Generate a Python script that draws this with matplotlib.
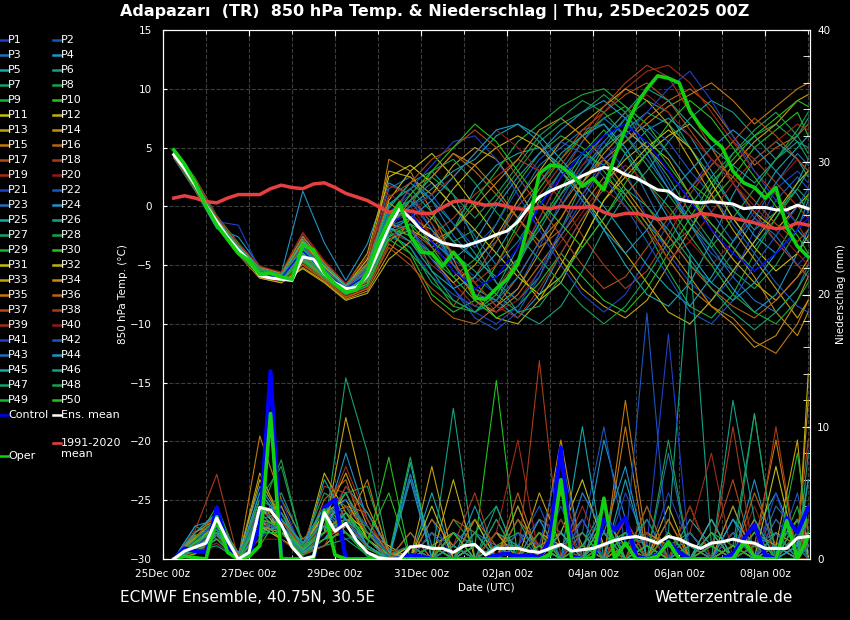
import matplotlib
matplotlib.use("Agg")
import matplotlib.pyplot as plt
from matplotlib.lines import Line2D
from matplotlib.ticker import MultipleLocator

# time axes (hours after 25Dec2025 00Z)
hours = list(range(6, 361, 6))
member_hours = [6] + list(range(18, 355, 12)) + [360]

tick_hours = [0, 48, 96, 144, 192, 240, 288, 336]
tick_labels = ["25Dec 00z", "27Dec 00z", "29Dec 00z", "31Dec 00z",
               "02Jan 00z", "04Jan 00z", "06Jan 00z", "08Jan 00z"]

# 850 hPa temperature, 6-hourly
ens_mean = [4.4, 3.2, 1.8, 0.1, -1.3, -2.6, -3.7, -4.6, -5.9, -6.1,
            -6.2, -6.3, -4.3, -4.5, -5.7, -6.5, -7.0, -6.9, -5.9, -3.9,
            -1.8, -0.2, -1.0, -2.0, -2.6, -3.1, -3.3, -3.4, -3.1, -2.8,
            -2.4, -2.1, -1.3, -0.1, 0.8, 1.3, 1.7, 2.1, 2.6, 3.0,
            3.3, 3.2, 2.7, 2.4, 1.9, 1.4, 1.3, 0.6, 0.4, 0.3,
            0.4, 0.3, 0.2, -0.2, -0.1, -0.1, -0.3, -0.3, 0.1, -0.2]
oper = [4.8, 3.6, 2.0, 0.0, -1.6, -2.8, -4.0, -4.6, -5.8, -5.7,
        -6.0, -6.2, -3.3, -3.7, -5.6, -6.6, -7.3, -7.1, -5.6, -3.2,
        -1.2, 0.3, -2.5, -3.9, -4.0, -5.1, -3.9, -5.0, -7.8, -7.9,
        -7.0, -6.2, -4.9, -1.5, 2.8, 3.5, 3.4, 2.7, 1.7, 2.4,
        1.4, 4.2, 6.6, 8.6, 10.0, 11.1, 10.9, 10.5, 8.1, 6.8,
        5.8, 5.0, 3.0, 2.0, 1.6, 0.7, 1.6, -1.8, -3.4, -4.3]
clim = [0.7, 0.9, 0.7, 0.4, 0.3, 0.7, 1.0, 1.0, 1.0, 1.5,
        1.8, 1.6, 1.5, 1.9, 2.0, 1.6, 1.1, 0.8, 0.5, 0.0,
        -0.5, -0.3, -0.4, -0.6, -0.6, -0.1, 0.4, 0.5, 0.3, 0.1,
        0.2, 0.0, -0.2, -0.3, -0.1, -0.2, 0.0, -0.1, -0.1, 0.0,
        -0.5, -0.8, -0.6, -0.6, -0.8, -1.1, -1.0, -0.9, -0.9, -0.6,
        -0.7, -0.9, -1.0, -1.2, -1.4, -1.7, -1.9, -1.8, -1.4, -1.6]
control_temp = [4.4, 1.8, -1.3, -3.7, -5.7, -6.1, -3.8, -5.6, -7.0, -5.8,
                -1.5, -0.5, -3.0, -5.5, -7.0, -6.0, -3.5, 0.0, 2.5, 4.5,
                6.0, 7.0, 5.5, 3.0, 0.5, -2.0, -4.0, -5.5, -4.0, -2.0, -1.0]

# precipitation (mm / 6h)
mean_precip = [0.0, 0.6, 0.9, 1.2, 3.1, 1.4, 0.0, 0.5, 3.9, 3.7,
               2.6, 0.9, 0.0, 0.2, 3.5, 2.1, 2.7, 1.4, 0.5, 0.1,
               0.0, 0.0, 0.9, 1.0, 0.8, 0.8, 0.5, 1.0, 1.1, 0.3,
               0.8, 0.8, 0.8, 0.6, 0.5, 0.8, 1.1, 0.6, 0.7, 0.8,
               1.1, 1.4, 1.6, 1.7, 1.5, 1.2, 1.7, 1.5, 1.1, 0.8,
               1.2, 1.3, 1.5, 1.3, 1.2, 0.8, 0.8, 0.8, 1.6, 1.7]
control_precip = [0, 0.8, 0.6, 0.5, 3.9, 1.0, 0, 0.4, 2.4, 14.2,
                  0, 0, 0, 0, 3.9, 4.5, 0, 0, 0, 0,
                  0, 0, 0.3, 0.2, 0, 0, 0, 0, 0, 0,
                  0.3, 0.4, 0.2, 0.3, 0.1, 1.5, 8.4, 0.2, 0, 0,
                  3.0, 2.2, 3.1, 0.2, 0, 0.3, 1.3, 0.5, 0, 0,
                  0, 0, 0.4, 1.5, 2.6, 0.3, 0, 3.1, 2.0, 3.9]
oper_precip = [0, 0.2, 0.1, 0, 3.2, 0.5, 0, 0.2, 1.0, 11.0,
               0, 0, 0, 0.1, 3.7, 0.3, 0, 0, 0, 0,
               0, 0, 0, 0, 0, 0, 0, 0, 0, 0,
               0, 0, 0, 0, 0, 0.3, 6.0, 0, 0, 0.1,
               4.6, 0, 1.2, 0, 0, 0.2, 1.3, 0, 0, 0,
               0, 0, 0, 1.3, 0.2, 0, 0, 2.9, 0, 1.7]

# ensemble members P1..P50, 12-hourly
member_temp = [
    [4.5, 1.9, -1.3, -3.6, -5.6, -6.0, -3.6, -5.5, -7.1, -5.2, -0.5, 1.0, -2.0, -4.5, -6.0, -7.5, -5.0, -1.0, 2.5, 4.0, 5.5, 3.0, -1.0, -4.0, -6.5, -8.0, -6.0, -2.0, 1.5, 3.0, 2.0],
    [4.3, 1.6, -1.5, -3.9, -5.8, -6.2, -4.2, -5.9, -7.2, -6.3, -2.5, -3.5, -6.0, -7.5, -8.5, -9.0, -7.0, -3.5, 0.5, 3.5, 5.0, 6.5, 5.0, 2.0, -1.5, -4.0, -5.5, -3.0, 0.5, 2.5, 1.5],
    [4.6, 2.1, -1.1, -3.3, -5.4, -5.8, -2.5, -4.9, -6.8, -4.8, 1.5, 2.5, 0.5, -2.5, -4.5, -3.0, 0.5, 3.5, 5.0, 6.5, 7.0, 4.5, 1.0, -2.5, -5.0, -6.5, -4.0, -1.0, -2.5, -5.0, -6.0],
    [4.1, 1.3, -1.9, -2.6, -5.1, -5.7, 1.3, -3.1, -6.3, -3.2, 2.0, 1.0, -1.5, -5.0, -7.0, -8.0, -9.5, -7.5, -4.0, -1.0, 1.5, 4.5, 6.5, 7.5, 6.0, 3.0, 0.0, -2.5, -4.0, -2.0, 0.5],
    [4.4, 1.7, -1.4, -3.8, -5.7, -6.1, -4.0, -5.7, -7.0, -6.0, -1.5, -0.5, -3.5, -2.0, 1.5, 3.5, 4.5, 5.0, 3.5, 1.0, -2.0, -5.0, -7.5, -8.5, -6.5, -3.0, 1.0, 4.0, 5.5, 4.0, 2.5],
    [4.7, 2.2, -1.0, -3.4, -5.3, -5.9, -3.0, -5.2, -6.9, -5.0, 0.0, 2.0, 3.0, 1.0, -3.0, -6.5, -8.0, -6.0, -2.0, 2.0, 5.0, 7.5, 9.0, 8.0, 5.0, 2.0, -1.0, -3.5, -1.0, 2.0, 4.0],
    [4.2, 1.5, -1.6, -4.0, -6.0, -6.4, -4.8, -6.2, -7.6, -6.8, -3.0, -1.5, -5.5, -8.0, -9.0, -7.0, -3.5, 0.5, 3.0, 4.5, 3.5, 1.0, -1.5, -3.5, -2.0, 1.5, 4.5, 6.0, 7.0, 5.5, 4.0],
    [4.6, 2.0, -1.2, -3.5, -5.5, -6.0, -3.4, -5.3, -6.9, -5.6, -1.0, 0.5, -1.0, -3.0, -2.0, 0.5, 3.0, 5.5, 7.0, 8.0, 9.5, 8.0, 5.0, 2.5, -0.5, -3.0, -5.5, -7.0, -5.0, -2.0, -1.0],
    [4.9, 2.4, -0.8, -3.1, -5.2, -5.7, -3.8, -5.5, -7.0, -5.7, -1.8, -2.5, -4.5, -6.0, -4.5, -1.5, 2.0, 4.5, 6.0, 5.0, 3.0, 0.5, -2.0, -5.5, -8.5, -9.5, -7.5, -4.0, -1.0, 1.5, 3.0],
    [4.5, 1.8, -1.3, -3.7, -5.6, -6.1, -4.4, -5.8, -7.3, -6.2, -2.0, -4.0, -7.5, -9.0, -8.0, -5.0, -1.5, 1.5, 4.0, 6.0, 7.5, 8.5, 7.0, 4.5, 2.0, 0.5, 2.5, 5.0, 6.5, 8.0, 6.0],
    [4.3, 1.6, -1.5, -3.9, -5.9, -6.3, -3.7, -5.6, -7.1, -5.4, 0.5, 3.0, 4.5, 2.5, 0.0, -2.5, -5.5, -8.0, -6.5, -3.0, 0.5, 2.5, 4.5, 6.0, 7.0, 5.0, 2.0, -0.5, -2.0, 0.0, 1.0],
    [4.6, 2.0, -1.1, -3.4, -5.4, -5.9, -4.6, -6.0, -7.4, -6.6, -2.8, -2.0, -3.0, -5.5, -7.5, -9.5, -10.0, -8.0, -5.0, -1.5, 2.0, 4.0, 5.5, 4.0, 1.0, -2.0, -4.5, -6.5, -8.0, -6.0, -4.5],
    [4.4, 1.9, -1.3, -3.6, -5.7, -6.2, -2.8, -5.0, -6.7, -4.0, 3.0, 2.5, 1.0, 3.5, 5.0, 4.0, 1.5, -1.5, -4.5, -7.0, -8.5, -9.5, -8.0, -5.0, -2.0, 1.0, 3.5, 5.5, 7.0, 9.0, 9.5],
    [4.2, 1.4, -1.7, -4.1, -6.1, -6.5, -5.2, -6.4, -7.9, -7.2, -4.0, -1.0, -2.0, -4.0, -6.5, -8.5, -7.0, -4.0, -1.0, 2.0, 4.5, 6.5, 5.0, 3.0, 0.5, -1.5, -3.5, -6.0, -9.0, -11.0, -9.0],
    [4.5, 1.8, -1.4, -3.8, -5.8, -6.2, -4.0, -5.7, -7.2, -6.1, 4.0, 3.0, -0.5, -4.5, -8.0, -9.0, -7.5, -5.0, -2.5, 0.0, 2.5, 1.0, -1.5, -4.5, -7.0, -8.5, -9.5, -11.5, -12.5, -10.0, -8.0],
    [4.7, 2.1, -1.0, -3.3, -5.3, -5.8, -3.2, -5.1, -6.8, -5.3, -0.8, 1.5, 2.5, 4.5, 3.0, 1.0, -1.0, -3.5, -2.0, 1.0, 3.5, 5.5, 7.5, 9.0, 10.0, 8.5, 6.0, 3.5, 5.0, 6.0, 7.0],
    [4.3, 1.5, -1.6, -4.0, -6.0, -6.4, -5.0, -6.3, -7.8, -7.0, -3.5, -5.0, -7.0, -8.5, -6.0, -3.0, 0.0, 2.0, 4.0, 6.5, 8.0, 9.5, 10.5, 9.0, 6.5, 4.0, 2.5, 0.5, -1.5, -3.0, -2.0],
    [4.6, 2.0, -1.2, -3.5, -5.5, -6.0, -3.3, -5.4, -6.9, -5.5, -1.2, -0.5, -2.5, -1.0, 1.0, 2.5, 4.0, 3.0, 0.5, -2.5, -5.0, -7.0, -5.5, -2.5, 1.0, 3.5, 5.5, 4.0, 2.0, 0.0, -1.0],
    [4.4, 1.7, -1.4, -3.8, -5.7, -6.1, -4.3, -5.9, -7.2, -6.4, -2.2, -3.0, -5.0, -6.5, -8.5, -7.0, -4.5, -1.0, 2.5, 5.5, 8.0, 10.0, 11.5, 12.0, 10.5, 8.0, 5.5, 3.0, 1.0, -1.5, -3.0],
    [4.8, 2.3, -0.9, -3.2, -5.2, -5.7, -2.2, -4.6, -6.6, -4.6, 1.0, 0.0, -2.5, -5.0, -7.0, -9.0, -8.0, -5.5, -3.0, -0.5, 2.0, 3.5, 2.0, -0.5, -3.0, -5.0, -3.0, -0.5, 2.0, 4.0, 3.0],
    [4.5, 1.9, -1.3, -1.6, -5.4, -6.0, -3.0, -5.0, -6.9, -5.3, -1.0, 1.5, 3.5, 5.5, 6.0, 4.0, 1.0, -2.0, -5.0, -7.5, -9.0, -7.5, -4.5, -1.5, 1.5, 4.0, 2.0, -1.0, -3.0, -5.0, -4.0],
    [4.2, 1.4, -1.7, -4.1, -6.0, -6.3, -4.7, -6.1, -7.5, -6.7, -2.5, -2.0, -4.0, -7.0, -9.5, -10.5, -9.0, -6.0, -2.5, 0.5, 3.5, 5.5, 7.0, 5.5, 3.0, 1.0, -1.5, -4.0, -6.5, -8.5, -9.0],
    [4.6, 2.1, -1.1, -3.4, -5.5, -6.0, -3.5, -5.4, -7.0, -5.6, -0.5, 0.5, 2.0, 0.0, -2.5, -5.0, -3.0, 0.0, 3.0, 5.5, 7.5, 6.0, 4.0, 1.5, -1.0, -3.5, -6.0, -8.0, -9.0, -7.0, -5.0],
    [4.4, 1.8, -1.3, -3.7, -5.6, -6.1, -4.1, -5.8, -7.1, -6.0, -1.7, -1.0, -3.0, -4.5, -3.0, 0.0, 2.5, 4.5, 6.5, 8.0, 9.0, 7.5, 4.5, 1.5, -1.5, -4.5, -7.0, -9.0, -7.5, -4.0, -2.0],
    [4.3, 1.6, -1.5, -3.9, -5.8, -6.2, -3.9, -5.7, -7.1, -6.0, -1.3, 0.0, 1.5, 3.0, 4.0, 6.0, 7.0, 6.0, 4.0, 2.0, 0.0, -2.5, -5.0, -7.0, -8.5, -6.0, -3.0, 0.0, 3.0, 5.0, 6.0],
    [4.7, 2.2, -1.0, -3.3, -5.3, -5.8, -3.1, -5.2, -6.8, -5.2, -0.2, 2.0, 0.5, -1.5, -4.0, -6.5, -9.0, -10.0, -8.5, -5.5, -2.0, 1.0, 3.0, 5.5, 7.5, 9.0, 8.0, 6.0, 4.0, 6.0, 7.5],
    [4.5, 1.8, -1.4, -3.8, -5.7, -6.1, -4.5, -5.9, -7.3, -6.3, -2.3, -3.5, -6.5, -8.0, -9.0, -8.0, -5.0, -1.5, 1.0, 3.0, 5.0, 6.5, 8.0, 7.0, 5.0, 2.5, 0.0, -2.0, -0.5, 1.5, 0.5],
    [4.6, 2.0, -1.2, -3.5, -5.4, -5.9, -3.6, -5.5, -7.0, -5.7, -1.4, 0.0, 3.0, 4.0, 2.0, -0.5, -2.5, -4.5, -6.5, -8.5, -10.0, -8.5, -6.0, -3.0, 0.0, 2.5, 4.5, 6.5, 8.0, 6.0, 4.5],
    [4.4, 1.7, -1.4, -3.7, -5.6, -6.1, -4.2, -5.8, -7.2, -6.1, -1.9, -2.5, -4.0, -2.0, 0.5, 3.0, 5.5, 7.0, 8.5, 9.5, 10.0, 8.5, 6.0, 3.5, 1.0, -1.5, -3.5, -5.5, -4.0, -1.0, 1.0],
    [4.3, 1.5, -1.6, -4.0, -5.9, -6.3, -4.6, -6.0, -7.5, -6.6, -2.6, -1.5, -3.5, -6.0, -8.0, -9.5, -8.5, -6.5, -4.0, -6.0, -8.0, -9.0, -7.0, -4.0, -1.0, 2.0, 4.0, 6.0, 7.5, 9.0, 8.5],
    [4.6, 2.1, -1.1, -3.4, -5.4, -5.9, -3.0, -5.1, -6.8, -4.5, 2.5, 3.5, 2.0, 0.0, -2.0, -4.0, -6.0, -7.5, -6.0, -3.0, 0.5, 3.0, 5.0, 6.5, 5.0, 2.0, -1.0, -3.5, -5.5, -4.0, -2.5],
    [4.2, 1.4, -1.7, -4.1, -6.1, -6.5, -5.3, -6.5, -8.0, -7.4, -4.5, -3.0, -1.0, 1.5, 3.5, 5.0, 6.0, 5.0, 3.0, 1.0, -1.5, -4.0, -6.5, -9.0, -10.0, -8.0, -5.5, -3.0, -0.5, 2.0, 3.0],
    [4.5, 1.8, -1.3, -3.7, -5.6, -6.0, -3.7, -5.6, -7.1, -5.8, -1.5, -2.0, -4.5, -6.5, -5.0, -2.5, 0.5, 3.0, 5.5, 7.0, 8.5, 10.0, 9.0, 7.0, 4.0, 1.0, -2.0, -4.5, -7.0, -9.5, -8.0],
    [4.7, 2.2, -1.0, -3.3, -5.2, -5.7, -2.6, -4.8, -6.7, -4.9, 0.3, -1.0, -3.0, -2.0, 0.0, 2.0, 4.0, 6.5, 7.5, 6.0, 4.0, 1.5, -1.0, -3.5, -6.0, -8.5, -10.0, -12.0, -11.0, -8.0, -6.0],
    [4.4, 1.7, -1.5, -3.9, -5.8, -6.2, -4.4, -6.0, -7.4, -6.4, -2.0, 0.5, 2.5, 4.5, 3.5, 1.5, -1.0, -3.0, -1.0, 2.0, 4.0, 5.5, 7.0, 8.5, 9.5, 10.5, 9.0, 7.0, 8.5, 10.0, 10.5],
    [4.3, 1.5, -1.6, -4.0, -6.0, -6.4, -4.9, -6.2, -7.7, -7.0, -3.2, -4.5, -8.0, -9.5, -10.0, -8.5, -6.0, -3.0, 0.0, 2.5, 4.0, 2.5, 0.0, -2.5, -5.0, -7.0, -8.5, -9.5, -8.0, -6.0, -5.0],
    [4.6, 2.0, -1.2, -3.5, -5.5, -6.0, -3.2, -5.3, -6.9, -5.1, 0.8, 2.0, 4.0, 5.0, 6.5, 5.0, 2.5, 0.0, -2.5, -5.0, -7.0, -6.0, -3.5, -1.0, 1.5, 3.5, 5.5, 7.5, 6.0, 4.0, 3.0],
    [4.5, 1.9, -1.3, -3.6, -5.6, -6.1, -4.1, -5.8, -7.1, -6.1, -1.6, -2.0, -3.5, -5.0, -6.5, -5.0, -2.0, 1.0, 3.5, 6.0, 8.5, 10.5, 12.0, 11.0, 8.0, 5.0, 2.0, -0.5, -3.0, -5.0, -6.0],
    [4.8, 2.3, -0.9, -3.2, -5.1, -5.6, -2.3, -4.7, -6.6, -4.3, 1.8, 1.0, -1.5, -4.0, -6.5, -8.5, -9.5, -7.0, -4.0, -1.0, 1.5, 0.0, -2.0, -4.5, -3.0, -0.5, 2.0, 4.0, 5.5, 7.0, 6.5],
    [4.2, 1.4, -1.7, -4.1, -6.0, -6.4, -4.8, -6.1, -7.6, -6.9, -3.0, -0.5, 1.0, 2.5, 4.5, 6.5, 5.0, 3.0, 1.0, 3.5, 6.0, 8.0, 9.5, 8.0, 6.0, 4.0, 2.0, 0.0, -2.0, -4.0, -5.0],
    [4.5, 1.8, -1.4, -3.8, -5.7, -6.1, -3.9, -5.7, -7.1, -5.9, -1.2, -2.0, -4.5, -7.0, -9.0, -10.0, -8.5, -5.5, -2.0, 1.0, 4.0, 6.0, 8.0, 10.0, 11.5, 9.0, 6.0, 3.0, 0.5, -1.5, -0.5],
    [4.4, 1.7, -1.4, -3.7, -5.6, -6.1, -3.8, -5.6, -7.0, -5.9, -1.7, 0.0, 1.0, -1.5, -3.5, -1.5, 1.5, 4.0, 5.5, 4.5, 2.5, 0.0, -3.0, -6.0, -9.0, -10.0, -8.0, -5.0, -2.5, 0.0, 1.5],
    [4.6, 2.0, -1.2, -3.5, -5.5, -6.0, -3.4, -5.3, -6.9, -5.4, -0.6, 0.5, -2.0, -5.0, -7.5, -8.0, -6.0, -3.0, 0.0, 3.0, 5.5, 7.5, 6.5, 4.5, 2.0, -0.5, -3.0, -1.0, 2.0, 4.5, 3.5],
    [4.3, 1.6, -1.5, -3.9, -5.8, -6.2, -4.3, -5.9, -7.2, -6.2, -2.1, -1.0, 0.5, 2.5, 4.5, 6.5, 7.0, 5.5, 3.0, 0.5, -2.0, -4.0, -2.0, 1.0, 3.0, 5.0, 6.5, 5.0, 3.0, 1.0, -0.5],
    [4.5, 1.9, -1.3, -3.6, -5.6, -6.1, -4.0, -5.8, -7.2, -6.0, -1.8, -3.0, -5.5, -7.0, -6.0, -4.0, -1.0, 2.0, 4.5, 6.0, 7.0, 5.0, 2.0, -1.0, -4.0, -6.5, -8.0, -6.5, -4.0, -2.0, -3.0],
    [4.7, 2.1, -1.1, -3.4, -5.3, -5.8, -2.9, -5.0, -6.7, -5.0, 0.2, 1.5, -0.5, -3.0, -4.5, -6.0, -4.5, -2.0, 1.0, 4.0, 6.0, 8.0, 10.0, 9.0, 7.0, 5.0, 3.5, 2.0, 4.0, 5.5, 5.0],
    [4.4, 1.7, -1.4, -3.8, -5.7, -6.2, -4.3, -5.9, -7.3, -6.3, -2.2, -1.5, -2.5, -4.0, -5.5, -7.5, -9.0, -8.5, -6.0, -3.5, -1.0, 1.5, 0.0, -2.0, -4.5, -7.0, -9.0, -10.5, -9.0, -7.0, -5.5],
    [4.6, 2.0, -1.2, -3.5, -5.4, -5.9, -3.6, -5.5, -7.0, -5.7, -1.3, 0.5, 2.5, 1.0, -1.0, 1.0, 3.5, 6.0, 7.5, 9.0, 8.0, 6.0, 3.5, 1.0, -1.5, -3.5, -1.0, 1.5, 4.0, 6.5, 8.0],
    [4.3, 1.5, -1.6, -4.0, -5.9, -6.3, -4.7, -6.1, -7.5, -6.8, -2.8, -4.0, -6.0, -8.5, -9.0, -7.5, -4.5, -1.5, 1.5, 4.5, 6.5, 4.5, 2.0, 0.0, -2.5, -5.0, -7.5, -9.0, -10.0, -8.0, -6.5],
    [4.5, 1.8, -1.3, -3.7, -5.6, -6.1, -3.9, -5.7, -7.1, -6.0, -1.5, 1.0, 3.0, 5.0, 7.0, 5.5, 3.0, 0.5, -1.5, -3.5, -1.0, 2.0, 4.5, 7.0, 9.0, 7.5, 5.0, 2.5, 0.0, -2.5, -4.0],
]

member_precip = [
    [0, 1.0, 2.0, 0, 3.0, 2.5, 0.5, 2.0, 3.0, 1.0, 0, 0, 1, 0, 2, 0, 1, 3, 0, 2, 0, 1, 0, 5, 1, 0, 2, 1, 0, 3, 1],
    [0, 0.5, 1.5, 0, 2.0, 3.0, 0.3, 1.5, 2.0, 0.5, 0, 1, 0, 2, 0, 1, 0, 0, 4, 0, 1, 0, 2, 0, 0, 3, 0, 1, 2, 0, 2],
    [0, 1.5, 2.5, 0, 4.0, 2.0, 1.0, 3.0, 1.5, 2.0, 0.5, 0, 2, 1, 0, 3, 0, 1, 0, 5, 2, 0, 2, 0, 1, 0, 4, 0, 1, 0, 3],
    [0, 2.5, 1.5, 0, 1.5, 4.0, 0.2, 2.5, 8.0, 3.0, 0.2, 6.4, 1, 0, 0, 2, 1, 0, 2, 0, 9, 3, 0, 1, 0, 2, 0, 6, 0, 2, 0],
    [0, 0.8, 3.0, 0.3, 2.5, 1.5, 0.5, 1.0, 2.5, 1.5, 0, 0, 5, 0, 1, 0, 4, 0, 1, 3, 0, 2, 1, 0, 3, 1, 0, 2, 5, 1, 0],
    [0, 1.2, 2.0, 0, 5.0, 3.0, 0.8, 4.0, 2.0, 0.5, 0, 2, 0, 1, 3, 0, 2, 1, 0, 1, 4, 0, 0, 2, 23, 1, 0, 3, 0, 1, 4],
    [0, 0.6, 1.0, 0, 2.0, 2.0, 0.4, 2.0, 13.7, 8.1, 0.5, 0, 1, 0, 2, 4, 0, 0, 3, 0, 1, 0, 2, 1, 0, 0, 1, 11, 0, 2, 1],
    [0, 1.0, 2.5, 0, 3.5, 7.5, 1.0, 5.0, 4.0, 1.0, 0, 0, 0, 3, 1, 0, 0, 2, 1, 0, 2, 1, 0, 0, 1, 0, 3, 1, 2, 0, 6],
    [0, 2.0, 3.5, 0, 2.5, 2.5, 0.6, 1.5, 3.0, 2.5, 0.3, 7.7, 0, 1, 0, 1, 2, 0, 0, 2, 0, 1, 3, 0, 2, 0, 0, 1, 0, 4, 0],
    [0, 0.4, 1.5, 0, 1.0, 3.5, 0.2, 3.5, 2.0, 0.2, 0, 0, 2, 0, 1, 13.5, 0, 1, 2, 0, 0, 0, 1, 0, 0, 2, 1, 0, 0, 1, 3],
    [0, 1.8, 2.0, 0, 4.5, 2.0, 0.7, 2.5, 5.0, 1.5, 0, 1, 0, 0, 3, 0, 1, 0, 2, 6, 1, 0, 0, 3, 0, 1, 0, 0, 2, 0, 1],
    [0, 0.7, 2.5, 0, 3.0, 1.5, 0.5, 6.5, 3.5, 2.0, 1.0, 0, 1, 2, 0, 0, 3, 1, 0, 0, 2, 0, 1, 0, 4, 0, 0, 2, 1, 0, 14],
    [0, 1.3, 1.8, 0, 6.5, 3.0, 1.2, 2.0, 10.7, 4.0, 0.5, 0, 7, 0, 1, 0, 0, 2, 1, 0, 0, 3, 0, 1, 0, 0, 2, 0, 1, 3, 0],
    [0, 0.9, 3.0, 0.5, 2.0, 2.0, 0.3, 1.0, 2.5, 1.0, 0, 0, 0, 1, 0, 2, 0, 0, 5, 1, 0, 0, 2, 0, 1, 0, 0, 3, 0, 0, 2],
    [0, 1.6, 3.5, 0, 9.3, 4.5, 1.5, 3.0, 4.0, 3.5, 0.8, 0, 2, 0, 0, 1, 1, 0, 0, 3, 0, 12, 1, 0, 0, 2, 0, 1, 9, 0, 1],
    [0, 0.5, 2.0, 0, 2.5, 3.0, 0.4, 4.5, 6.0, 1.5, 0, 0, 0, 3, 2, 0, 5, 0, 1, 0, 1, 2, 0, 0, 2, 0, 1, 0, 3, 1, 0],
    [0, 1.1, 2.2, 0, 3.0, 2.0, 0.6, 2.0, 3.0, 0.8, 0, 1, 0, 0, 1, 0, 0, 3, 2, 0, 4, 0, 1, 0, 0, 1, 6, 0, 0, 2, 0],
    [0, 2.2, 6.4, 0, 4.0, 3.5, 1.0, 5.5, 5.0, 2.0, 0.3, 0, 1, 0, 0, 2, 0, 15, 0, 1, 0, 0, 2, 1, 0, 0, 1, 0, 10, 0, 1],
    [0, 0.6, 1.5, 0, 2.0, 2.5, 0.2, 3.0, 7.0, 3.0, 0, 0, 0, 2, 1, 0, 1, 0, 0, 4, 0, 1, 0, 0, 2, 8, 0, 1, 0, 0, 3],
    [0, 1.4, 2.8, 0.2, 3.5, 1.8, 0.8, 2.0, 2.0, 0.5, 0, 0, 2, 0, 0, 1, 0, 1, 6, 0, 1, 0, 0, 2, 0, 1, 0, 4, 0, 1, 0],
    [0, 1.0, 2.0, 0, 3.0, 4.5, 0.5, 2.5, 3.5, 1.5, 0.2, 0, 3, 0, 1, 0, 2, 0, 1, 0, 0, 5, 1, 17, 0, 0, 2, 0, 1, 0, 2],
    [0, 0.5, 1.2, 0, 1.5, 3.0, 0.3, 1.5, 4.0, 2.5, 0, 2, 0, 1, 0, 0, 1, 4, 0, 2, 10, 1, 0, 0, 1, 0, 0, 2, 0, 5, 1],
    [0, 1.7, 2.5, 0, 4.0, 2.5, 1.0, 3.5, 2.5, 1.0, 0, 6.4, 0, 0, 2, 1, 0, 0, 2, 0, 1, 0, 3, 0, 0, 1, 0, 0, 4, 2, 0],
    [0, 2.5, 3.0, 0.4, 5.5, 3.0, 0.7, 2.0, 5.5, 3.5, 0.6, 0, 1, 0, 4, 0, 0, 2, 0, 0, 2, 7, 0, 1, 0, 0, 3, 1, 0, 0, 4],
    [0, 0.8, 1.5, 0, 2.5, 2.0, 0.4, 6.0, 3.0, 1.0, 0, 7.3, 0, 2, 0, 1, 0, 1, 0, 10, 0, 0, 2, 0, 1, 0, 0, 2, 0, 1, 0],
    [0, 1.5, 2.2, 0, 3.0, 5.0, 1.2, 2.5, 2.0, 0.5, 0, 0, 0, 11.4, 0, 2, 1, 0, 0, 1, 3, 0, 0, 1, 2, 0, 0, 0, 1, 0, 2],
    [0, 1.0, 1.8, 0, 2.0, 2.0, 0.3, 1.0, 1.5, 0.3, 0, 1, 0, 0, 1, 0, 3, 0, 1, 0, 0, 2, 0, 0, 0, 2, 0, 1, 0, 3, 0],
    [0, 0.7, 2.8, 0, 4.5, 3.5, 0.9, 3.0, 5.0, 5.5, 0.4, 0, 2, 0, 0, 3, 0, 1, 0, 0, 1, 0, 4, 0, 0, 1, 0, 0, 2, 0, 1],
    [0, 1.3, 4.0, 0, 3.0, 2.5, 0.5, 2.0, 3.0, 2.0, 0, 0, 1, 0, 2, 0, 0, 0, 3, 0, 0, 1, 2, 0, 1, 0, 0, 1, 0, 2, 1],
    [0, 0.9, 2.0, 0, 2.0, 3.0, 0.6, 4.0, 2.5, 1.0, 7.7, 0, 0, 1, 0, 1, 0, 2, 0, 0, 1, 0, 0, 0, 2, 0, 1, 0, 0, 2, 3],
    [0, 1.6, 3.0, 0, 4.0, 2.0, 0.8, 3.5, 4.5, 1.5, 0.3, 0, 4, 0, 1, 0, 2, 1, 0, 0, 3, 1, 0, 2, 0, 0, 1, 0, 7, 0, 1],
    [0, 0.4, 1.8, 0, 2.5, 1.5, 0.3, 2.0, 2.0, 0.5, 0, 1, 0, 6, 0, 0, 1, 0, 2, 0, 0, 1, 0, 4, 0, 2, 0, 1, 0, 0, 2],
    [0, 1.2, 2.5, 0, 6.0, 3.0, 1.0, 3.0, 6.5, 2.5, 0.5, 0, 1, 0, 0, 2, 0, 5, 1, 0, 2, 0, 1, 0, 0, 3, 0, 0, 1, 9, 0],
    [0, 2.0, 3.0, 0, 3.5, 4.0, 0.5, 2.5, 3.0, 1.0, 0, 0, 0, 2, 1, 0, 4, 0, 9, 0, 1, 0, 2, 1, 0, 0, 4, 0, 2, 1, 12],
    [0, 0.8, 2.0, 0, 2.5, 2.0, 0.4, 1.5, 2.5, 6.0, 0.2, 0, 3, 1, 0, 0, 0, 2, 0, 1, 0, 10, 0, 0, 1, 0, 2, 0, 0, 3, 1],
    [0, 1.0, 2.5, 0.3, 4.0, 3.0, 0.7, 2.0, 3.5, 1.0, 0, 2, 0, 0, 3, 1, 0, 0, 2, 0, 0, 1, 0, 3, 0, 1, 0, 5, 1, 0, 0],
    [0, 1.5, 3.5, 0, 3.0, 2.5, 0.6, 3.0, 2.0, 0.5, 0, 0, 2, 0, 0, 0, 3, 1, 0, 2, 0, 0, 4, 0, 0, 1, 0, 1, 0, 2, 9],
    [0, 0.6, 1.5, 0, 2.0, 2.0, 0.3, 1.0, 4.0, 2.0, 0, 0, 0, 1, 5, 0, 0, 2, 0, 0, 1, 0, 0, 2, 0, 0, 10, 0, 1, 0, 1],
    [0, 1.1, 2.0, 0, 3.5, 3.0, 0.9, 2.5, 5.5, 3.0, 0.4, 1, 0, 0, 0, 2, 9, 0, 1, 0, 0, 3, 0, 0, 1, 0, 0, 2, 0, 0, 3],
    [0, 0.5, 1.2, 0, 1.5, 1.5, 0.2, 2.0, 2.0, 0.5, 0, 0, 1, 0, 2, 0, 0, 0, 3, 0, 0, 0, 2, 0, 4, 0, 0, 1, 0, 2, 0],
    [0, 0.9, 2.3, 0, 2.5, 2.5, 0.5, 2.0, 3.0, 1.0, 0, 0, 0, 1, 0, 0, 2, 1, 0, 3, 0, 0, 1, 0, 0, 0, 2, 0, 5, 0, 1],
    [0, 1.4, 2.8, 0, 4.0, 3.5, 1.0, 3.0, 4.5, 2.5, 0.3, 0, 2, 0, 0, 0, 0, 1, 8, 0, 2, 1, 18.6, 0, 2, 0, 0, 0, 3, 1, 0],
    [0, 0.7, 1.8, 0, 3.0, 2.0, 0.4, 2.5, 2.5, 1.0, 0, 0, 0, 2, 1, 0, 1, 0, 0, 5, 2, 0, 0, 8, 0, 1, 0, 0, 2, 0, 1],
    [0, 2.0, 3.5, 0, 5.0, 3.0, 1.2, 4.0, 3.0, 1.5, 0, 6, 0, 0, 2, 0, 0, 3, 0, 0, 4, 0, 1, 0, 0, 0, 3, 0, 0, 1, 6],
    [0, 0.8, 2.0, 0, 2.0, 2.5, 0.5, 1.5, 3.5, 1.0, 0, 0, 1, 0, 0, 1, 0, 0, 2, 0, 0, 6, 0, 1, 0, 3, 0, 0, 1, 0, 2],
    [0, 1.2, 2.2, 0, 3.5, 2.0, 0.6, 2.5, 2.0, 0.5, 0, 0, 0, 1, 0, 4, 0, 1, 0, 0, 2, 0, 0, 0, 1, 0, 12, 3, 0, 0, 8],
    [0, 1.0, 2.5, 0, 3.0, 3.5, 0.8, 3.0, 5.0, 2.0, 0.3, 1, 0, 0, 1, 0, 0, 0, 1, 2, 0, 0, 0, 0, 0, 2, 0, 11, 0, 2, 1],
    [0, 1.5, 3.0, 0, 4.5, 7.0, 1.0, 2.0, 3.0, 1.5, 0, 0, 0, 0, 2, 0, 1, 0, 0, 0, 1, 2, 0, 9, 0, 0, 0, 1, 0, 3, 0],
    [0, 0.6, 1.5, 0, 2.0, 2.0, 0.3, 1.5, 2.0, 0.8, 0, 0, 1, 0, 0, 0, 0, 2, 0, 1, 0, 0, 0, 2, 0, 0, 1, 0, 0, 8, 2],
    [0, 1.3, 2.5, 0, 3.0, 2.5, 0.7, 2.0, 3.5, 1.5, 5.0, 0, 0, 2, 0, 0, 0, 1, 0, 0, 3, 0, 1, 0, 0, 1, 0, 2, 0, 0, 4],
]

member_names = ["P%d" % (i + 1) for i in range(50)]

# member colour cycle (repeats every 20 members)
palette = ["#2040c8", "#1a55c0", "#1f6fb8", "#1c94c6", "#18a6b0",
           "#14a086", "#17a06a", "#1aa050", "#1bb038", "#22c020",
           "#c0c012", "#c0b010", "#c4a010", "#c48c10", "#c27812",
           "#b86214", "#b04c16", "#a83c18", "#a02c1a", "#901a1a"]

fig = plt.figure(figsize=(8.5, 6.2), dpi=100, facecolor="black")
ax = fig.add_axes([163 / 850, 61 / 620, 647 / 850, 529 / 620], facecolor="black")
ax2 = ax.twinx()

for i, temps in enumerate(member_temp):
    ax.plot(member_hours, temps, color=palette[i % 20], lw=0.8, zorder=2)
ax.plot(member_hours, control_temp, color="#0000ff", lw=1.0, zorder=2)
ax.plot(hours, clim, color="#e84040", lw=2.5, zorder=4)
ax.plot(hours, ens_mean, color="white", lw=2.2, zorder=5)
ax.plot(hours, oper, color="#10d010", lw=2.6, zorder=6)

for i, pr in enumerate(member_precip):
    ax2.plot(member_hours, pr, color=palette[i % 20], lw=0.8, zorder=2)
ax2.plot(hours, control_precip, color="#0000ff", lw=3, zorder=4)
ax2.plot(hours, oper_precip, color="#10d010", lw=2.6, zorder=5)
ax2.plot(hours, mean_precip, color="white", lw=2.2, zorder=6)

ax.set_xlim(0, 361)
ax.set_ylim(-30, 15)
ax2.set_ylim(0, 40)
ax.set_xticks(tick_hours)
ax.set_xticklabels(tick_labels)
ax.xaxis.set_minor_locator(MultipleLocator(24))
ax.yaxis.set_major_locator(MultipleLocator(5))
ax2.yaxis.set_major_locator(MultipleLocator(10))
ax2.yaxis.set_minor_locator(MultipleLocator(2))

ax.grid(True, which="both", axis="x", color="#3c3c3c", ls="--", lw=0.8)
ax.grid(True, which="major", axis="y", color="#3c3c3c", ls="--", lw=0.8)
ax.set_axisbelow(True)

for a in (ax, ax2):
    for s in a.spines.values():
        s.set_color("white")
ax.tick_params(axis="both", which="both", colors="white", labelsize=7.5,
               direction="in", top=True)
ax.tick_params(axis="x", which="major", length=4, pad=7)
ax.tick_params(axis="x", which="minor", length=3)
ax.tick_params(axis="y", length=3, pad=8)
ax2.tick_params(axis="y", which="both", colors="white", labelsize=7.5,
                direction="in", pad=5)
ax2.tick_params(axis="y", which="major", length=6)
ax2.tick_params(axis="y", which="minor", length=5)

ax.set_ylabel("850 hPa Temp. (°C)", color="white", fontsize=7.5, labelpad=1)
ax2.set_ylabel("Niederschlag (mm)", color="white", fontsize=7.5,
               rotation=90, labelpad=4)
ax.set_xlabel("Date (UTC)", color="white", fontsize=7.5, labelpad=3)

fig.text(435 / 850, 1 - 12 / 620,
         "Adapazarı  (TR)  850 hPa Temp. & Niederschlag | Thu, 25Dec2025 00Z",
         ha="center", va="center", color="white", fontsize=11.5, fontweight="bold")
fig.text(120 / 850, 1 - 598 / 620, "ECMWF Ensemble, 40.75N, 30.5E",
         ha="left", va="center", color="white", fontsize=11)
fig.text(793 / 850, 1 - 598 / 620, "Wetterzentrale.de",
         ha="right", va="center", color="white", fontsize=11)


# hand-placed legend on the left
def legend_item(px, py, label, color):
    yf = 1 - py / 620
    fig.add_artist(Line2D([px / 850, (px + 8) / 850], [yf, yf],
                          transform=fig.transFigure, color=color, lw=1.8))
    fig.text((px + 8) / 850, yf, label, ha="left", va="center",
             color="white", fontsize=8)


for i, name in enumerate(member_names):
    col = i % 2
    row = i // 2
    legend_item(0 if col == 0 else 53, 40 + row * 15, name, palette[i % 20])
legend_item(0, 415, "Control", "#0000ff")
legend_item(53, 415, "Ens. mean", "white")
legend_item(0, 456, "Oper", "#10d010")
legend_item(53, 443, "1991-2020", "#e84040")
fig.text(61 / 850, 1 - 454 / 620, "mean", ha="left", va="center",
         color="white", fontsize=8)

fig.savefig("out.png", dpi=100, facecolor="black")
